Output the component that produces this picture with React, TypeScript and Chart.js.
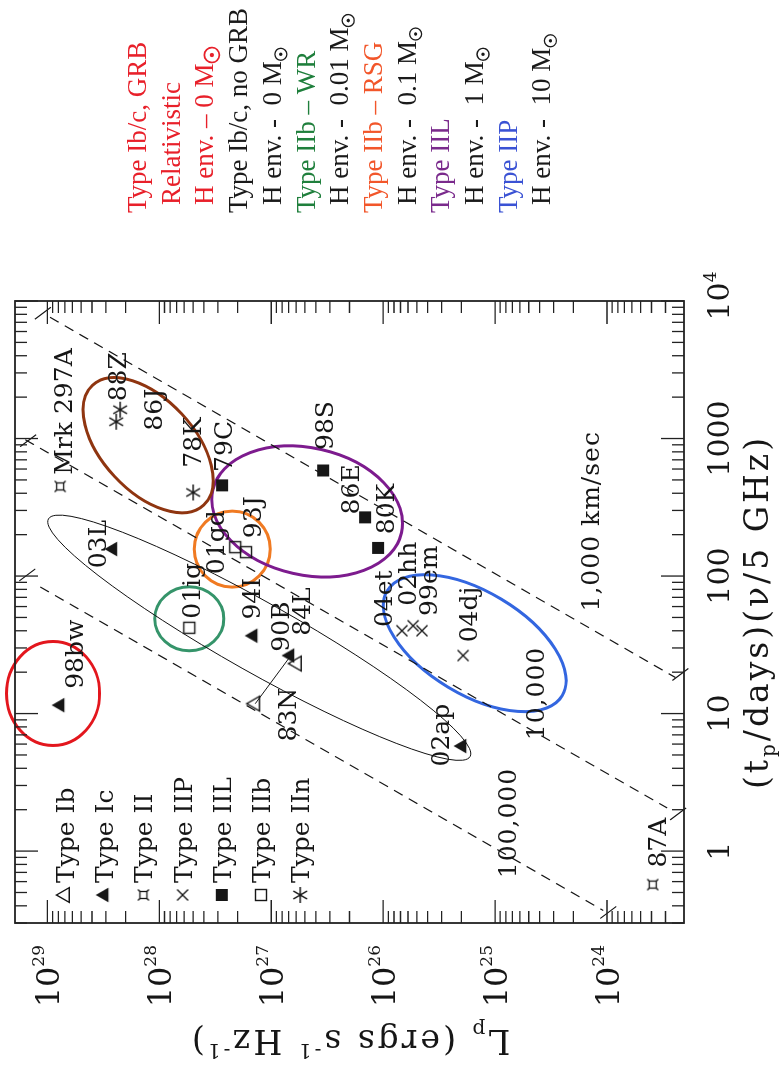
import React, { useEffect, useRef } from "react";
import { Chart, registerables } from "chart.js";

Chart.register(...registerables);

// Canvas in the figure's own (unrotated) orientation; it is turned 90° on the page.
const CW = 1081;
const CH = 781;

// ---------------- data ----------------
// t = (t_p/days)(nu/5 GHz) , L = L_p (erg s^-1 Hz^-1)
const ibNames = ["83N", "84L"];
const ibT = [11.8, 23.1];
const ibL = [1.39e27, 5.9e26];

const icNames = ["98bw", "03L", "94I", "90B", "02ap"];
const icT = [11.5, 157, 36.8, 26.4, 5.8];
const icL = [7.7e28, 2.6e28, 1.45e27, 6.8e26, 1.97e25];

const iiNames = ["Mrk 297A", "87A"];
const iiT = [448, 0.57];
const iiL = [7.7e28, 3.9e23];

const iipNames = ["04et", "02hh", "99em", "04dj"];
const iipT = [40, 43.5, 40, 26.4];
const iipL = [6.8e25, 5.4e25, 4.5e25, 1.93e25];

const iilNames = ["79C", "98S", "86E", "80K"];
const iilT = [456, 585, 267, 160];
const iilL = [2.75e27, 3.44e26, 1.45e26, 1.11e26];

const iibNames = ["01gd", "93J", "01ig"];
const iibT = [162, 149, 42];
const iibL = [2.1e27, 1.68e27, 5.4e27];

const iinNames = ["88Z", "86J", "78K"];
const iinT = [1618, 1324, 405];
const iinL = [2.24e28, 2.43e28, 4.99e27];

// 83N evolution track (thin solid line)
const trackT = [11.8, 25.5];
const trackL = [1.39e27, 6.9e26];

// constant-velocity lines (end points)
const v100kT = [83.3, 0.37];
const v100kL = [1.16e29, 1.08e24];
const v10kT = [981, 2.06];
const v10kL = [1.58e29, 2.9e23];
const v1kT = [7620, 18.3];
const v1kL = [9.5e28, 2.45e23];

const velLabels = ["100,000", "10,000", "1,000 km/sec"];
const velLabelT = [1.6, 14, 250];
const velLabelL = [7.8e24, 4.4e24, 1.41e24];

// ellipse centres (data)
const ellT = [14.0, 48.9, 157, 295, 895, 32.5, 35.6];
const ellL = [8.9e28, 5.4e27, 2.23e27, 4.78e26, 1.26e28, 1.52e25, 1.28e27];

// axis ticks
const tMajor = [1, 10, 100, 1000, 10000];
const tMajorText = ["1", "10", "100", "1000", "10|4"];
const lMajor = [1e24, 1e25, 1e26, 1e27, 1e28, 1e29];
const lMajorExp = ["24", "25", "26", "27", "28", "29"];

const legendTypes = ["Type Ib", "Type Ic", "Type II", "Type IIP", "Type IIL", "Type IIb", "Type IIn"];

// ---------------- styles ----------------
const PLOTF = "'DejaVu Serif', 'Liberation Serif', serif";
const SERIF = "'Liberation Serif', 'DejaVu Serif', serif";
const INK = "#161616";

const ellStyle = [
  { rx: 52, ry: 46.5, rot: 0, color: "#e3161d", w: 3 },
  { rx: 32, ry: 34.5, rot: 0, color: "#35946a", w: 3 },
  { rx: 38, ry: 38, rot: 0, color: "#f07a22", w: 3 },
  { rx: 96.8, ry: 63.5, rot: 102.7, color: "#7d1b8e", w: 3 },
  { rx: 81.7, ry: 45.9, rot: 137.1, color: "#8f3510", w: 3 },
  { rx: 102, ry: 51.4, rot: 120.9, color: "#3366e0", w: 3 },
  { rx: 242, ry: 35, rot: 119.4, color: "#111", w: 1 },
];

// label offsets (du along t axis, dv down) in px
const labelOffset: Record<string, [number, number]> = {
  "98bw": [51, 14], "03L": [5, -16], "Mrk 297A": [75, 3], "88Z": [33, -3], "86J": [12, 37],
  "78K": [50, -1], "79C": [39, 1], "01gd": [5, -20], "93J": [35, 6], "01ig": [37, 2],
  "94I": [37, -2], "90B": [29, -10], "84L": [52, 4], "83N": [-11, 32], "02ap": [11, -22],
  "87A": [42, 4], "98S": [45, 1], "86E": [28, -15], "80K": [39, 7], "04et": [32, -19],
  "02hh": [52, -6], "99em": [50, 6], "04dj": [41, 5],
};

// slash marks at the two ends of each velocity line (offset from the end, px)
const slashOffset: [number, number][][] = [
  [[12, -13], [-2, 5]],
  [[-1, 3], [-6, 11]],
  [[4, -7], [3, 5]],
];

type Part = { s: string; size: number; dy: number; color?: string; sun?: boolean };

function drawRich(
  ctx: CanvasRenderingContext2D,
  parts: Part[],
  x: number,
  y: number,
  align: string,
  family: string,
  spacing = 0
) {
  const anyCtx = ctx as any;
  const prevLS = anyCtx.letterSpacing;
  if (spacing && "letterSpacing" in anyCtx) anyCtx.letterSpacing = `${spacing}px`;
  let total = 0;
  const ws = parts.map((p) => {
    if (p.sun) return p.size * 1.1;
    ctx.font = `${p.size}px ${family}`;
    return ctx.measureText(p.s).width;
  });
  ws.forEach((w) => (total += w));
  let cx = align === "left" ? x : align === "center" ? x - total / 2 : x - total;
  ctx.textAlign = "left";
  ctx.textBaseline = "alphabetic";
  parts.forEach((p, i) => {
    if (p.color) {
      ctx.fillStyle = p.color;
      ctx.strokeStyle = p.color;
    }
    if (p.sun) {
      const r = p.size / 2;
      ctx.lineWidth = Math.max(1, p.size / 9);
      ctx.beginPath();
      ctx.arc(cx + r + 1, y + p.dy - r, r, 0, Math.PI * 2);
      ctx.stroke();
      ctx.beginPath();
      ctx.arc(cx + r + 1, y + p.dy - r, Math.max(1.2, r / 3.5), 0, Math.PI * 2);
      ctx.fill();
    } else {
      ctx.font = `${p.size}px ${family}`;
      ctx.fillText(p.s, cx, y + p.dy);
    }
    cx += ws[i];
  });
  if (spacing && "letterSpacing" in anyCtx) anyCtx.letterSpacing = prevLS || "0px";
}

function marker(draw: (g: CanvasRenderingContext2D) => void): HTMLCanvasElement {
  const c = document.createElement("canvas");
  c.width = 26;
  c.height = 26;
  const g = c.getContext("2d")!;
  g.translate(13, 13);
  g.strokeStyle = INK;
  g.fillStyle = INK;
  g.lineWidth = 1.4;
  draw(g);
  return c;
}

function triPath(g: CanvasRenderingContext2D, r: number) {
  g.beginPath();
  g.moveTo(0, -r);
  g.lineTo(r * 0.866, r * 0.5);
  g.lineTo(-r * 0.866, r * 0.5);
  g.closePath();
}

export default function App() {
  const ref = useRef<HTMLCanvasElement | null>(null);

  useEffect(() => {
    const canvas = ref.current;
    if (!canvas) return;

    const mOpenTri = marker((g) => { triPath(g, 8.5); g.stroke(); });
    const mFillTri = marker((g) => { triPath(g, 8.5); g.fill(); });
    const mStar4 = marker((g) => {
      g.lineWidth = 1.3;
      g.strokeRect(-3.5, -3.5, 7, 7);
      g.beginPath();
      [[-1, -1], [1, -1], [1, 1], [-1, 1]].forEach(([a, b]) => { g.moveTo(a * 3.5, b * 3.5); g.lineTo(a * 5.5, b * 5.5); });
      g.stroke();
    });
    const mCross = marker((g) => {
      g.beginPath();
      g.moveTo(-5.5, -5.5); g.lineTo(5.5, 5.5);
      g.moveTo(5.5, -5.5); g.lineTo(-5.5, 5.5);
      g.stroke();
    });
    const mFillSq = marker((g) => { g.fillRect(-6, -6, 12, 12); });
    const mOpenSq = marker((g) => { g.strokeRect(-5.5, -5.5, 11, 11); });
    const mAst = marker((g) => {
      g.beginPath();
      for (let k = 0; k < 3; k++) {
        const a = (k * Math.PI) / 3;
        g.moveTo(-8 * Math.cos(a), -8 * Math.sin(a));
        g.lineTo(8 * Math.cos(a), 8 * Math.sin(a));
      }
      g.stroke();
    });
    const legendMarkers = [mOpenTri, mFillTri, mStar4, mCross, mFillSq, mOpenSq, mAst];

    const pts = (ts: number[], ls: number[]) => ts.map((t, i) => ({ x: t, y: ls[i] }));
    const groups = [
      { names: ibNames, t: ibT, l: ibL, m: mOpenTri },
      { names: icNames, t: icT, l: icL, m: mFillTri },
      { names: iiNames, t: iiT, l: iiL, m: mStar4 },
      { names: iipNames, t: iipT, l: iipL, m: mCross },
      { names: iilNames, t: iilT, l: iilL, m: mFillSq },
      { names: iibNames, t: iibT, l: iibL, m: mOpenSq },
      { names: iinNames, t: iinT, l: iinL, m: mAst },
    ];

    const lineDs = (ts: number[], ls: number[], dash: number[], w: number) => ({
      data: pts(ts, ls),
      showLine: true,
      borderColor: INK,
      borderWidth: w,
      borderDash: dash,
      pointRadius: 0,
      fill: false,
    });
    const velLines = [
      [v100kT, v100kL],
      [v10kT, v10kL],
      [v1kT, v1kL],
    ];

    const deco = {
      id: "deco",
      beforeDraw(chart: any) {
        const c = chart.ctx;
        c.save();
        c.fillStyle = "#fff";
        c.fillRect(0, 0, CW, CH);
        c.restore();
      },
      beforeDatasetsDraw(chart: any) {
        const c: CanvasRenderingContext2D = chart.ctx;
        const xs = chart.scales.x;
        const ys = chart.scales.y;
        c.save();
        ellT.forEach((t, i) => {
          const s = ellStyle[i];
          c.strokeStyle = s.color;
          c.lineWidth = s.w;
          c.beginPath();
          c.ellipse(xs.getPixelForValue(t), ys.getPixelForValue(ellL[i]), s.rx, s.ry, (s.rot * Math.PI) / 180, 0, Math.PI * 2);
          c.stroke();
        });
        // small slashes at the ends of the velocity lines
        c.strokeStyle = INK;
        c.lineWidth = 1.2;
        c.beginPath();
        velLines.forEach(([ts, ls], j) => {
          ts.forEach((t, i) => {
            const [ox, oy] = slashOffset[j][i];
            const px = xs.getPixelForValue(t) + ox;
            const py = ys.getPixelForValue(ls[i]) + oy;
            c.moveTo(px - 6, py - 8);
            c.lineTo(px + 6, py + 8);
          });
        });
        c.stroke();
        c.restore();
      },
      afterDatasetsDraw(chart: any) {
        const c: CanvasRenderingContext2D = chart.ctx;
        const xs = chart.scales.x;
        const ys = chart.scales.y;
        const a = chart.chartArea;
        c.save();

        // frame
        c.strokeStyle = "#222";
        c.lineWidth = 1.8;
        c.strokeRect(a.left, a.top, a.right - a.left, a.bottom - a.top);

        // ticks
        c.lineWidth = 1.3;
        c.beginPath();
        for (let e = -1; e <= 4; e++) {
          for (let k = 1; k <= 9; k++) {
            const v = k * Math.pow(10, e);
            if (v < xs.min || v > xs.max) continue;
            const px = xs.getPixelForValue(v);
            const len = k === 1 ? 23 : 12;
            c.moveTo(px, a.bottom); c.lineTo(px, a.bottom - len);
            c.moveTo(px, a.top); c.lineTo(px, a.top + len);
          }
        }
        for (let e = 23; e <= 29; e++) {
          for (let k = 1; k <= 9; k++) {
            const v = k * Math.pow(10, e);
            if (v < ys.min || v > ys.max) continue;
            const py = ys.getPixelForValue(v);
            const len = k === 1 ? 23 : 12;
            c.moveTo(a.left, py); c.lineTo(a.left + len, py);
            c.moveTo(a.right, py); c.lineTo(a.right - len, py);
          }
        }
        c.stroke();

        // tick labels
        c.fillStyle = INK;
        tMajor.forEach((v, i) => {
          const px = xs.getPixelForValue(v);
          const txt = tMajorText[i];
          if (txt.includes("|")) {
            const [b, ex] = txt.split("|");
            drawRich(c, [{ s: b, size: 30, dy: 0 }, { s: ex, size: 17, dy: -13 }], px + 5, a.bottom + 45, "center", PLOTF);
          } else {
            drawRich(c, [{ s: txt, size: 30, dy: 0 }], px, a.bottom + 45, "center", PLOTF);
          }
        });
        lMajor.forEach((v, i) => {
          const py = ys.getPixelForValue(v);
          drawRich(c, [{ s: "10", size: 32, dy: 0 }, { s: lMajorExp[i], size: 17, dy: -15 }], a.left - 22, py + 12, "right", PLOTF);
        });

        // axis titles
        drawRich(
          c,
          [
            { s: "(t", size: 33, dy: 0 },
            { s: "p", size: 20, dy: 7 },
            { s: "/days)(\u03bd/5 GHz)", size: 33, dy: 0 },
          ],
          (a.left + a.right) / 2,
          a.bottom + 84,
          "center",
          PLOTF,
          3
        );
        c.save();
        c.translate(40, (a.top + a.bottom) / 2);
        c.rotate(-Math.PI / 2);
        drawRich(
          c,
          [
            { s: "L", size: 33, dy: 0 },
            { s: "p", size: 20, dy: 7 },
            { s: " (ergs s", size: 33, dy: 0 },
            { s: "-1", size: 20, dy: -14 },
            { s: " Hz", size: 33, dy: 0 },
            { s: "-1", size: 20, dy: -14 },
            { s: ")", size: 33, dy: 0 },
          ],
          0,
          11,
          "center",
          PLOTF,
          3
        );
        c.restore();

        // point labels
        c.fillStyle = INK;
        groups.forEach((g) => {
          g.names.forEach((n, i) => {
            const off = labelOffset[n] || [0, 0];
            const px = xs.getPixelForValue(g.t[i]) + off[0];
            const py = ys.getPixelForValue(g.l[i]) + off[1];
            drawRich(c, [{ s: n, size: 25, dy: 0 }], px, py + 9, "center", PLOTF);
          });
        });

        // velocity labels
        velLabels.forEach((s, i) => {
          drawRich(c, [{ s, size: 25, dy: 0 }], xs.getPixelForValue(velLabelT[i]), ys.getPixelForValue(velLabelL[i]) + 9, "center", PLOTF, 1);
        });

        // inner legend
        legendTypes.forEach((s, i) => {
          const vy = 65 + 39.2 * i;
          const m = legendMarkers[i];
          c.drawImage(m, 186 - m.width / 2, vy - m.height / 2);
          drawRich(c, [{ s, size: 25, dy: 0 }], 198, vy + 9, "left", PLOTF);
        });

        // outer legend
        const red = "#e8202a";
        const blk = "#1a1a1a";
        const rows: { x: number; parts: Part[] }[] = [
          { x: 868, parts: [{ s: "Type Ib/c, GRB", size: 27, dy: 0, color: red }] },
          { x: 876, parts: [{ s: "Relativistic", size: 27, dy: 0, color: red }] },
          { x: 876, parts: [{ s: "H env. \u2013 0 M", size: 27, dy: 0, color: red }, { s: "", size: 15, dy: 6, sun: true }] },
          { x: 868, parts: [{ s: "Type Ib/c, no GRB", size: 27, dy: 0, color: blk }] },
          { x: 876, parts: [{ s: "H env. -  0 M", size: 27, dy: 0, color: blk }, { s: "", size: 12, dy: 6, sun: true }] },
          { x: 868, parts: [{ s: "Type IIb \u2013 WR", size: 27, dy: 0, color: "#1f7f3c" }] },
          { x: 876, parts: [{ s: "H env. -  0.01 M", size: 27, dy: 0, color: blk }, { s: "", size: 12, dy: 6, sun: true }] },
          { x: 868, parts: [{ s: "Type IIb \u2013 RSG", size: 27, dy: 0, color: "#f2562a" }] },
          { x: 876, parts: [{ s: "H env. -  0.1 M", size: 27, dy: 0, color: blk }, { s: "", size: 12, dy: 6, sun: true }] },
          { x: 868, parts: [{ s: "Type IIL", size: 27, dy: 0, color: "#7a2a8c" }] },
          { x: 876, parts: [{ s: "H env. -  1 M", size: 27, dy: 0, color: blk }, { s: "", size: 12, dy: 6, sun: true }] },
          { x: 868, parts: [{ s: "Type IIP", size: 27, dy: 0, color: "#3a52d4" }] },
          { x: 876, parts: [{ s: "H env. -  10 M", size: 27, dy: 0, color: blk }, { s: "", size: 12, dy: 6, sun: true }] },
        ];
        rows.forEach((r, i) => {
          drawRich(c, r.parts, r.x, 137 + 33.7 * i + 9, "left", SERIF);
        });

        c.restore();
      },
    };

    const chart = new Chart(canvas, {
      type: "scatter",
      data: {
        datasets: [
          ...groups.map((g) => ({
            data: pts(g.t, g.l),
            pointStyle: g.m as any,
            pointRadius: 6,
            showLine: false,
          })),
          ...velLines.map(([ts, ls]) => lineDs(ts, ls, [10, 7], 1.2)),
          lineDs(trackT, trackL, [], 1),
        ] as any,
      },
      options: {
        responsive: false,
        animation: false,
        devicePixelRatio: 1,
        events: [],
        layout: { padding: { left: 158, right: 301, top: 15, bottom: 97 } },
        plugins: { legend: { display: false }, tooltip: { enabled: false } },
        scales: {
          x: { type: "logarithmic", min: 0.31, max: 10000, display: false },
          y: { type: "logarithmic", min: 2.05e23, max: 1.95e29, display: false },
        },
      },
      plugins: [deco as any],
    });

    return () => chart.destroy();
  }, []);

  return (
    <div style={{ position: "fixed", left: 0, top: 0, width: 781, height: 1081, overflow: "hidden", background: "#fff" }}>
      <canvas
        ref={ref}
        width={CW}
        height={CH}
        style={{
          position: "absolute",
          left: 0,
          top: 0,
          width: CW,
          height: CH,
          transformOrigin: "0 0",
          transform: `translateY(${CW}px) rotate(-90deg)`,
        }}
      />
    </div>
  );
}
